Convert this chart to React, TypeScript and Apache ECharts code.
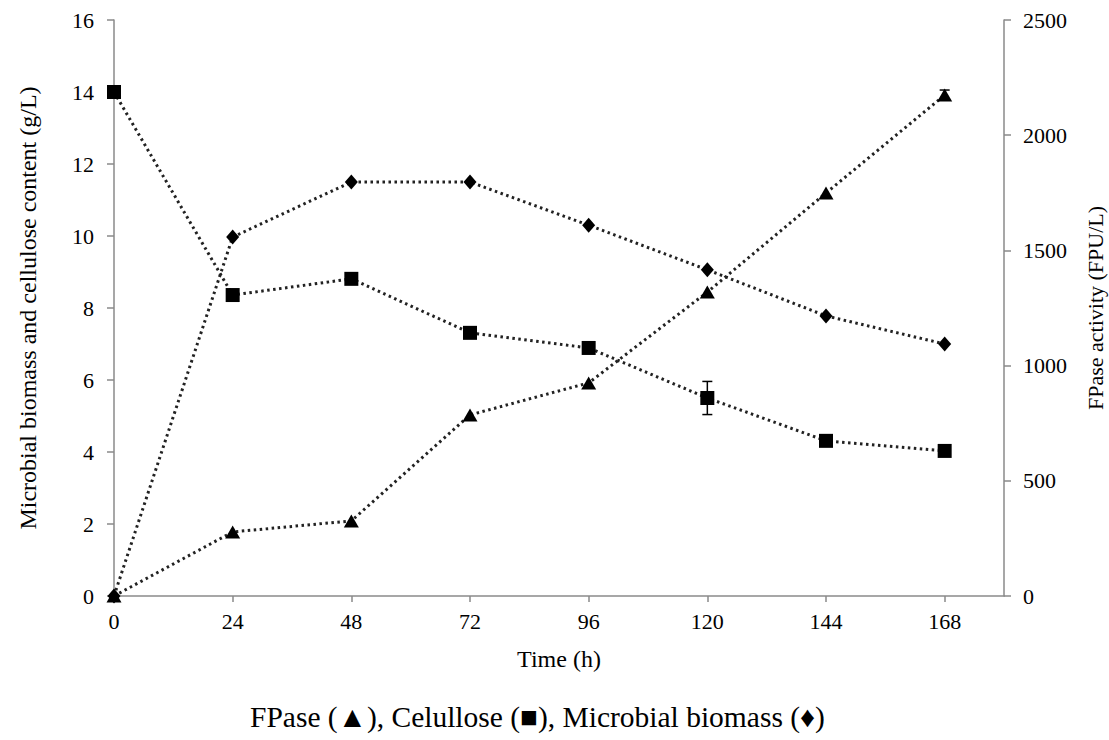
import React, { useEffect, useRef } from "react";
import * as echarts from "echarts";

const timeHours = [0, 24, 48, 72, 96, 120, 144, 168];
const fpaseActivity = [0, 278, 326, 786, 925, 1319, 1749, 2174];
const fpaseError = [0, 0, 0, 0, 0, 0, 0, 22];
const celluloseContent = [14.0, 8.36, 8.81, 7.31, 6.89, 5.5, 4.31, 4.03];
const celluloseError = [0, 0, 0, 0, 0, 0.46, 0, 0];
const microbialBiomass = [0, 9.97, 11.5, 11.5, 10.3, 9.06, 7.78, 7.0];
const xTickLabels = [0, 24, 48, 72, 96, 120, 144, 168];
const caption = "FPase (\u25B2), Celullose (\u25A0), Microbial biomass (\u2666)";

const FONT = "Liberation Serif";
const AXIS_COLOR = "#8a8a8a";
const INK = "#000";

function pairs(ys: number[]) {
  return timeHours.map((t, i) => [t, ys[i]]);
}

function errorSeries(values: number[], errs: number[], yAxisIndex: number) {
  const data = timeHours
    .map((t, i) => [t, values[i], errs[i]])
    .filter((d) => d[2] > 0);
  return {
    type: "custom",
    yAxisIndex,
    silent: true,
    z: 1,
    data,
    renderItem: (params: any, api: any) => {
      const x = api.value(0);
      const y = api.value(1);
      const e = api.value(2);
      const top = api.coord([x, y + e]);
      const bot = api.coord([x, y - e]);
      const half = 5;
      const style = { stroke: INK, lineWidth: 1.5 };
      return {
        type: "group",
        children: [
          { type: "line", shape: { x1: top[0], y1: top[1], x2: bot[0], y2: bot[1] }, style },
          { type: "line", shape: { x1: top[0] - half, y1: top[1], x2: top[0] + half, y2: top[1] }, style },
          { type: "line", shape: { x1: bot[0] - half, y1: bot[1], x2: bot[0] + half, y2: bot[1] }, style },
        ],
      };
    },
  };
}

const dotted = { color: "#222", width: 3, type: [2.5, 3.5], cap: "butt" };
const tickFont = { fontFamily: FONT, fontSize: 22, color: INK };
const titleFont = { fontFamily: FONT, fontSize: 24, color: INK };

export default function App() {
  const ref = useRef<HTMLDivElement>(null);
  useEffect(() => {
    if (!ref.current) return;
    const chart = echarts.init(ref.current, null, { renderer: "svg" });
    chart.setOption({
      animation: false,
      backgroundColor: "#fff",
      textStyle: { fontFamily: FONT },
      grid: { left: 114, right: 105, top: 20, bottom: 144, containLabel: false, outerBoundsMode: "none" },
      xAxis: {
        type: "value",
        min: 0,
        max: 180,
        interval: 24,
        name: "Time (h)",
        nameLocation: "middle",
        nameGap: 51,
        nameTextStyle: titleFont,
        axisLine: { lineStyle: { color: AXIS_COLOR, width: 1.5 } },
        axisTick: { show: true, length: 6, lineStyle: { color: AXIS_COLOR, width: 1.5 }, customValues: xTickLabels },
        axisLabel: { ...tickFont, margin: 14, customValues: xTickLabels, formatter: (v: number) => String(v) },
        splitLine: { show: false },
      },
      yAxis: [
        {
          type: "value",
          min: 0,
          max: 16,
          interval: 2,
          position: "left",
          name: "Microbial biomass and cellulose content (g/L)",
          nameLocation: "middle",
          nameRotate: 90,
          nameGap: 74,
          nameTextStyle: titleFont,
          axisLine: { show: true, lineStyle: { color: AXIS_COLOR, width: 1.5 } },
          axisTick: { show: true, length: 7, lineStyle: { color: AXIS_COLOR, width: 1.5 } },
          axisLabel: { ...tickFont, margin: 20, formatter: (v: number) => String(v) },
          splitLine: { show: false },
        },
        {
          type: "value",
          min: 0,
          max: 2500,
          interval: 500,
          position: "right",
          name: "FPase activity (FPU/L)",
          nameLocation: "middle",
          nameRotate: 90,
          nameGap: 80,
          nameTextStyle: { ...titleFont, fontSize: 22 },
          axisLine: { show: true, lineStyle: { color: AXIS_COLOR, width: 1.5 } },
          axisTick: { show: true, length: 7, lineStyle: { color: AXIS_COLOR, width: 1.5 } },
          axisLabel: { ...tickFont, margin: 19, formatter: (v: number) => String(v) },
          splitLine: { show: false },
        },
      ],
      series: [
        errorSeries(celluloseContent, celluloseError, 0),
        errorSeries(fpaseActivity, fpaseError, 1),
        {
          name: "FPase",
          type: "line",
          yAxisIndex: 1,
          data: pairs(fpaseActivity),
          symbol: "triangle",
          symbolSize: [15, 13],
          showAllSymbol: true,
          itemStyle: { color: INK },
          lineStyle: dotted,
          z: 3,
        },
        {
          name: "Celullose",
          type: "line",
          yAxisIndex: 0,
          data: pairs(celluloseContent),
          symbol: "rect",
          symbolSize: 14,
          showAllSymbol: true,
          itemStyle: { color: INK },
          lineStyle: dotted,
          z: 3,
        },
        {
          name: "Microbial biomass",
          type: "line",
          yAxisIndex: 0,
          data: pairs(microbialBiomass),
          symbol: "diamond",
          symbolSize: [13, 15],
          showAllSymbol: true,
          itemStyle: { color: INK },
          lineStyle: dotted,
          z: 3,
        },
      ],
      graphic: [
        {
          type: "text",
          left: 250,
          top: 702,
          style: {
            text: caption,
            font: "29.5px Liberation Serif",
            fontFamily: FONT,
            fontSize: 29.5,
            fill: INK,
          },
        },
      ],
    });
    return () => chart.dispose();
  }, []);
  return (
    <div
      ref={ref}
      style={{ position: "fixed", left: 0, top: 0, width: 1109, height: 740, background: "#fff" }}
    />
  );
}
